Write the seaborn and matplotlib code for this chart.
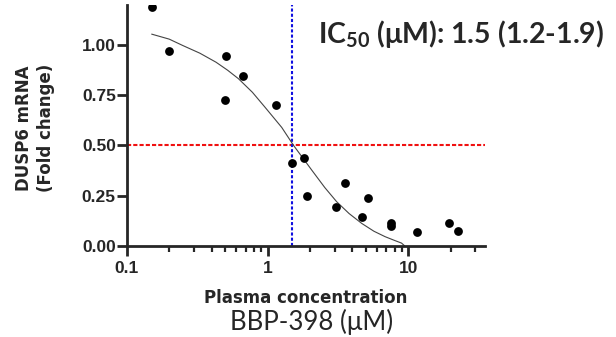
import matplotlib
matplotlib.use("Agg")
import matplotlib.pyplot as plt
import seaborn as sns
import pandas as pd
from matplotlib.ticker import FixedLocator, NullFormatter

# --- data ---
conc = [0.151, 0.20, 0.50, 0.51, 0.668, 1.14, 1.50, 1.81, 1.92, 3.07, 3.56,
        4.70, 5.20, 7.5, 7.6, 11.6, 19.4, 22.4]
fold = [1.19, 0.97, 0.725, 0.945, 0.845, 0.70, 0.413, 0.436, 0.249, 0.194, 0.315,
        0.143, 0.237, 0.114, 0.10, 0.067, 0.114, 0.072]

fit_x = [0.15, 0.20, 0.25, 0.33, 0.43, 0.52, 0.62, 0.78, 0.96, 1.26, 1.53, 2.06,
         2.55, 3.10, 3.80, 4.67, 5.70, 6.84, 8.0, 8.95, 9.4]
fit_y = [1.055, 1.03, 0.998, 0.96, 0.915, 0.875, 0.833, 0.765, 0.69, 0.59, 0.50, 0.377,
         0.29, 0.219, 0.16, 0.111, 0.072, 0.045, 0.026, 0.013, 0.0]

ic50 = 1.5
half = 0.5
yticks = [0.0, 0.25, 0.50, 0.75, 1.00]
xticks = [0.1, 1, 10]
xticklabels = ["0.1", "1", "10"]
minor_x = [0.2, 0.3, 0.4, 0.5, 0.6, 0.7, 0.8, 0.9,
           2, 3, 4, 5, 6, 7, 8, 9, 20, 30]

pts = pd.DataFrame({"conc": conc, "fold": fold})
fit = pd.DataFrame({"x": fit_x, "y": fit_y})

sns.set_style("ticks")
plt.rcParams["font.family"] = ["Liberation Sans", "DejaVu Sans"]

fig = plt.figure(figsize=(6.16, 3.37), dpi=100)
ax = fig.add_axes([0.206, 0.271, 0.581, 0.714])

sns.lineplot(data=fit, x="x", y="y", ax=ax, color="#444444", lw=0.8,
             sort=False, estimator=None, zorder=2)
sns.scatterplot(data=pts, x="conc", y="fold", ax=ax, color="black", s=40,
                edgecolor="black", linewidth=0, zorder=3)

ax.set_xscale("log")
ax.set_xlim(0.1, 35)
ax.set_ylim(0, 1.2)

ax.axhline(half, color="#f01010", lw=1.5, ls=(0, (2.0, 1.0)), zorder=1)
ax.axvline(ic50, color="#1010e0", lw=1.5, ls=(0, (1.5, 1.0)), zorder=1)

ax.set_yticks(yticks)
ax.set_yticklabels([f"{v:.2f}" for v in yticks], fontweight="bold", fontsize=12.5)
ax.xaxis.set_major_locator(FixedLocator(xticks))
ax.set_xticklabels(xticklabels, fontweight="bold", fontsize=12.5)
ax.xaxis.set_minor_locator(FixedLocator(minor_x))
ax.xaxis.set_minor_formatter(NullFormatter())

for s in ["top", "right"]:
    ax.spines[s].set_visible(False)
for s in ["left", "bottom"]:
    ax.spines[s].set_linewidth(2)
ax.tick_params(axis="both", which="major", width=2, length=7, direction="out")
ax.tick_params(axis="y", which="major", pad=1)
ax.tick_params(axis="x", which="major", pad=4)
ax.tick_params(axis="x", which="minor", width=1.6, length=4, direction="out")
ax.set_xlabel("")
ax.set_ylabel("")

fig.text(0.057, 0.62, "DUSP6 mRNA\n(Fold change)", rotation=90, ha="center",
         va="center", fontsize=12, fontweight="bold", linespacing=1.3,
         family=["DejaVu Sans"])
fig.text(0.497, 0.102, "Plasma concentration", ha="center", va="baseline",
         fontsize=12, fontweight="bold", family=["DejaVu Sans"])
fig.text(0.505, 0.021, "BBP-398 (μM)", ha="center", va="baseline",
         fontsize=18.5, family=["Lato", "DejaVu Sans"])
fig.text(0.516, 0.872, r"IC$\mathregular{_{50}}$ (μM): 1.5 (1.2-1.9)", ha="left",
         va="baseline", fontsize=20.5, fontweight="bold", family=["Lato", "DejaVu Sans"])

fig.savefig("out.png", dpi=100)
